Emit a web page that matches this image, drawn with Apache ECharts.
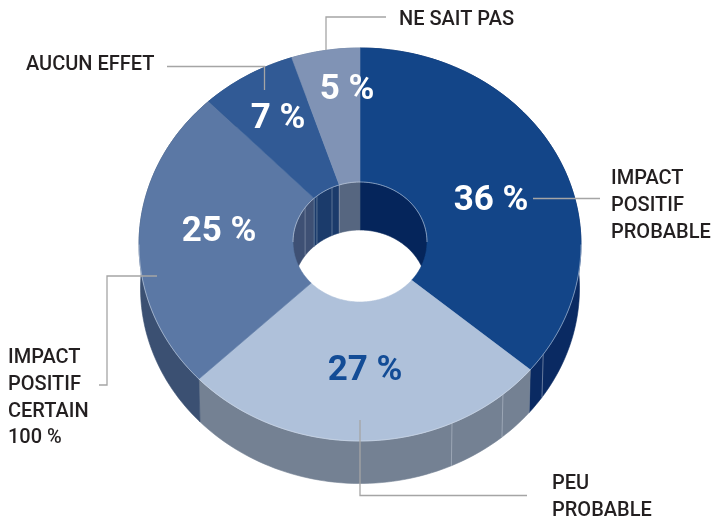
<!DOCTYPE html>
<html>
<head>
<meta charset="utf-8">
<style>html,body{margin:0;padding:0;background:#fff}#c{width:714px;height:519px}</style>
<script src="https://cdn.jsdelivr.net/npm/echarts@6/dist/echarts.min.js"></script>
</head>
<body>
<div id="c"></div>
<script>
const categories = ['IMPACT\nPOSITIF\nPROBABLE', 'PEU\nPROBABLE', 'IMPACT\nPOSITIF\nCERTAIN\n100 %', 'AUCUN EFFET', 'NE SAIT PAS'];
const values = [36, 27, 25, 7, 5];
const topColors = ['#134588', '#AFC1DA', '#5B78A5', '#315A95', '#8093B5'];
const wallColors = ['#0A2A62', '#748193', '#3B5072', '#274A7C', '#5F7396'];
const innerColors = ['#05255B', '#748193', '#3E5074', '#1B3B6B', '#566680'];
const outerSeams = [124, 139.7, 155.4];
const innerSeams = [305, 320, 335.3, 316.8, 342];

const percentAnchors = [[491, 201], [365, 371], [219, 232], [278, 119], [347, 90]];
const percentColors = ['#fff', '#134C96', '#fff', '#fff', '#fff'];
const labelAnchors = [[611, 179, 'left'], [552, 484, 'left'], [8, 358, 'left'], [26, 65, 'left'], [399, 20, 'left']];
const leaders = [
  [[533, 198.5], [600, 198.5]],
  [[360, 420], [360, 495.5], [527, 495.5]],
  [[157, 276], [107, 276], [107, 385], [99, 385]],
  [[167, 66.5], [264.5, 66.5], [264.5, 90]],
  [[326, 50], [326, 17], [386, 17]]
];

const OUTER = {x: 360, y: 244.5, rx: 221, ry: 196.5};
const OUTER_LOW = {x: 360, y: 288, rx: 219.5, ry: 195.5};
const HOLE = {x: 360, y: 242, rx: 67, ry: 60};
const HOLE_LOW = {x: 360, y: 290, rx: 67, ry: 60};

const total = values.reduce((a, b) => a + b, 0);
function sliceRange(i) {
  let s = 0;
  for (let k = 0; k < i; k++) s += values[k];
  return [s / total * 360, (s + values[i]) / total * 360];
}
function pt(e, deg) {
  const t = deg * Math.PI / 180;
  return [e.x + e.rx * Math.sin(t), e.y - e.ry * Math.cos(t)];
}
function arc(e, a, b) {
  const n = Math.max(2, Math.ceil(Math.abs(b - a) / 1.5));
  const out = [];
  for (let i = 0; i <= n; i++) out.push(pt(e, a + (b - a) * i / n));
  return out;
}
function poly(points, fill) {
  return {type: 'polygon', shape: {points}, style: {fill, stroke: fill, lineWidth: 0.6}};
}

function renderOuterWall(params) {
  const [a, b] = sliceRange(params.dataIndex);
  return poly(arc(OUTER, a, b).concat(arc(OUTER_LOW, b, a)), wallColors[params.dataIndex]);
}
function renderInnerWall(params) {
  // only the far half of the hole's wall faces the viewer
  const i = params.dataIndex;
  let [a, b] = sliceRange(i);
  const parts = [];
  const segs = [[a, Math.min(b, 90)], [Math.max(a, 270), b]];
  segs.forEach(([p, q]) => {
    if (q > p) parts.push(poly(arc(HOLE, p, q).concat(arc(HOLE_LOW, q, p)), innerColors[i]));
  });
  return {type: 'group', children: parts};
}
function renderTop(params) {
  const i = params.dataIndex;
  const [a, b] = sliceRange(i);
  return poly(arc(OUTER, a, b).concat(arc(HOLE, b, a)), topColors[i]);
}
function seam(from, to, deg, opacity) {
  const p = pt(from, deg), q = pt(to, deg);
  return {type: 'line', shape: {x1: p[0], y1: p[1], x2: q[0], y2: q[1]},
    style: {stroke: '#c3ccd9', lineWidth: 0.7, opacity}};
}
function renderRim(params) {
  return {type: 'group', children: [
    {type: 'polyline', shape: {points: arc(OUTER, 90, 270)}, style: {fill: 'none', stroke: '#dbe3ee', lineWidth: 0.5}},
    {type: 'polyline', shape: {points: arc(HOLE, -90, 90)}, style: {fill: 'none', stroke: '#c9d3e2', lineWidth: 0.6}}
  ]};
}
function renderPercent(params) {
  const i = params.dataIndex, p = percentAnchors[i];
  return {type: 'text', style: {text: values[i] + ' %', x: p[0], y: p[1], align: 'center', verticalAlign: 'middle',
    font: 'bold 35px Roboto', fill: percentColors[i]}};
}
const layer = (name, data, renderItem, z) => ({type: 'custom', name, coordinateSystem: 'none', data, renderItem, z, silent: true, animation: false});

const graphics = [];
leaders.forEach(points => graphics.push({type: 'polyline', z: 20, shape: {points},
  style: {fill: 'none', stroke: '#a5a5a5', lineWidth: 1.3}}));
categories.forEach((text, i) => {
  const a = labelAnchors[i];
  graphics.push({type: 'text', z: 20, style: {text, x: a[0], y: a[1] - 13, align: a[2], verticalAlign: 'top',
    font: '500 20px Roboto', lineHeight: 26.6, fill: '#231F20'}});
});

const chart = echarts.init(document.getElementById('c'), null, {renderer: 'canvas'});
chart.setOption({
  animation: false,
  backgroundColor: '#fff',
  graphic: graphics,
  series: [
    layer('outerWall', values, renderOuterWall, 1),
    layer('outerSeams', outerSeams, (p) => seam(OUTER, OUTER_LOW, outerSeams[p.dataIndex], 0.7), 2),
    layer('innerWall', values, renderInnerWall, 3),
    layer('innerSeams', innerSeams, (p) => seam(HOLE, HOLE_LOW, innerSeams[p.dataIndex], 0.55), 4),
    layer('top', values, renderTop, 5),
    layer('rim', [1], renderRim, 6),
    layer('percent', values, renderPercent, 7)
  ]
});
</script>
</body>
</html>
